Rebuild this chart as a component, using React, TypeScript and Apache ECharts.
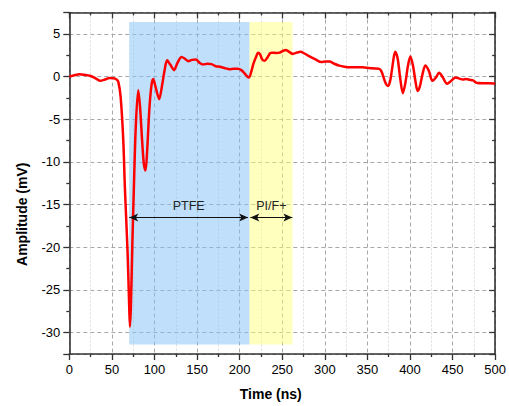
import React, { useEffect, useRef } from "react";
import * as echarts from "echarts";

// Time (ns)
const times = [
  0, 5, 12, 18, 24, 30, 36, 42, 47, 52, 55.5, 57.5, 60.2, 63.3, 65.3, 68.4, 70.2, 71.2, 72.3, 73.9,
  75.8, 78, 80.9, 83, 85.5, 87.5, 89.5, 91.5, 94, 96.5, 98.5, 101.5, 105.5, 109, 112, 114.9, 118.5,
  123, 127, 131.8, 135.5, 139.5, 144, 148.5, 153, 157, 162, 167, 172, 176.7, 182, 188.4, 193, 198,
  202, 206, 209, 211, 214, 216.5, 219.7, 221.6, 224, 226.5, 229.4, 233, 236, 239, 243, 247, 251, 254,
  258, 262.6, 267, 271.6, 276, 282, 289, 296, 301, 305.6, 311, 317, 323, 329, 337, 344.7, 352, 358,
  364, 366.5, 369, 371.5, 374, 376.5, 379, 382.6, 385.5, 388.5, 391.6, 394.5, 397.5, 400.4, 403.5,
  406.5, 409, 411.5, 415, 418, 422, 426.5, 430.5, 434.2, 438.5, 443.5, 448.5, 453.5, 458, 462, 466,
  470, 474, 478, 485, 492, 500,
];

// Amplitude (mV)
const amplitudes = [
  0, 0.12, 0.27, 0.2, 0.1, -0.15, -0.5, -0.35, -0.18, -0.2, -0.35, -0.6, -2.3, -7.3, -13.1, -20.5,
  -26.5, -29.3, -27, -20.1, -13.1, -6, -1.6, -3.5, -7.5, -10.2, -11, -8.5, -3.8, -1, -0.3, -1.3,
  -2.65, -1, 0.8, 1.9, 1.4, 0.75, 1.6, 2.28, 2.1, 1.8, 1.95, 2.0, 1.6, 1.4, 1.5, 1.45, 1.2, 1.15, 1.0,
  0.85, 0.9, 0.9, 0.75, 0.35, 0.0, -0.1, 0.7, 1.6, 2.4, 2.8, 2.6, 2.0, 1.85, 2.3, 2.75, 2.8, 2.75, 2.8,
  3.0, 3.1, 2.9, 2.65, 2.8, 2.9, 2.7, 2.35, 2.0, 1.7, 1.75, 1.75, 1.5, 1.28, 1.15, 1.08, 1.1, 1.08,
  1.0, 0.95, 0.9, 0.6, -0.1, -0.8, -1.1, -0.6, 0.9, 2.9, 2.1, -0.2, -1.95, -0.8, 1.2, 2.35, 1.3, -0.6,
  -1.7, -1.2, 0.4, 1.3, 0.7, -0.5, -0.1, 0.43, -0.1, -0.85, -0.5, -0.1, -0.25, -0.35, -0.3, -0.38,
  -0.45, -0.72, -0.78, -0.78, -0.82,
];

// Shaded regions: name, start/end time (ns), bottom/top amplitude (mV)
const regionNames = ["PTFE", "PI/F+"];
const regionStart = [70.3, 211.6];
const regionEnd = [211.6, 262];
const regionColors = ["rgba(128,192,246,0.5)", "rgba(255,255,110,0.45)"];
const regionBottom = -31.4;
const regionTop = 6.4;

// Double arrows under the labels
const arrowStart = [70.3, 212.6];
const arrowEnd = [209.9, 261.9];
const arrowLevel = -16.5;

const xMin = 0;
const xMax = 500;
const xInterval = 50;
const yMin = -32.5;
const yMax = 7.5;

const FONT = "'Liberation Sans', Arial, Helvetica, sans-serif";
const AXIS_COLOR = "#333333";

export default function App() {
  const ref = useRef<HTMLDivElement>(null);

  useEffect(() => {
    if (!ref.current) return;
    const chart = echarts.init(ref.current, undefined, { renderer: "svg" });

    const seriesData = times.map((t, i) => [t, amplitudes[i]]);

    const axisLine = { show: true, onZero: false, lineStyle: { color: AXIS_COLOR, width: 1.6 } };
    const tickStyle = { color: AXIS_COLOR, width: 1.3 };

    chart.setOption({
      animation: false,
      textStyle: { fontFamily: FONT },
      grid: { left: 69.3, right: 13, top: 12.5, bottom: 49.2, containLabel: false },
      xAxis: [
        {
          type: "value",
          position: "bottom",
          min: xMin,
          max: xMax,
          interval: xInterval,
          axisLine,
          axisTick: { show: true, inside: false, length: 6, lineStyle: tickStyle },
          minorTick: { show: true, splitNumber: 2, length: 3, lineStyle: tickStyle },
          axisLabel: { fontSize: 13, color: "#000", margin: 9, fontFamily: FONT },
          splitLine: { show: true, lineStyle: { type: [4, 3], color: "#a8a8a8", width: 1 } },
          minorSplitLine: { show: true, lineStyle: { type: [2, 2], color: "#dcdcdc", width: 1 } },
          name: "Time (ns)",
          nameLocation: "middle",
          nameGap: 33,
          nameTextStyle: {
            fontWeight: "bold",
            fontSize: 14,
            color: "#000",
            fontFamily: FONT,
            padding: [0, 23, 0, 0],
          },
        },
        {
          type: "value",
          position: "top",
          min: xMin,
          max: xMax,
          interval: xInterval,
          axisLine,
          axisTick: { show: true, inside: true, length: 6, lineStyle: tickStyle },
          minorTick: { show: true, splitNumber: 2, length: 3, lineStyle: tickStyle },
          axisLabel: { show: false },
          splitLine: { show: false },
        },
      ],
      yAxis: [
        {
          type: "value",
          position: "left",
          min: yMin,
          max: yMax,
          splitNumber: 8,
          axisLine,
          axisTick: { show: true, inside: false, length: 6, lineStyle: tickStyle },
          minorTick: { show: true, splitNumber: 2, length: 3, lineStyle: tickStyle },
          axisLabel: {
            fontSize: 13,
            color: "#000",
            margin: 9,
            fontFamily: FONT,
            showMinLabel: false,
            showMaxLabel: false,
          },
          splitLine: { show: true, lineStyle: { type: [4, 3], color: "#a8a8a8", width: 1 } },
          name: "Amplitude (mV)",
          nameLocation: "middle",
          nameGap: 40,
          nameTextStyle: {
            fontWeight: "bold",
            fontSize: 14,
            color: "#000",
            fontFamily: FONT,
            padding: [0, 62, 0, 0],
          },
        },
        {
          type: "value",
          position: "right",
          min: yMin,
          max: yMax,
          splitNumber: 8,
          axisLine,
          axisTick: { show: true, inside: true, length: 6, lineStyle: tickStyle },
          minorTick: { show: true, splitNumber: 2, length: 3, lineStyle: tickStyle },
          axisLabel: { show: false },
          splitLine: { show: false },
        },
      ],
      series: [
        {
          type: "line",
          xAxisIndex: 0,
          yAxisIndex: 0,
          data: seriesData,
          showSymbol: false,
          symbol: "none",
          smooth: 0.3,
          lineStyle: { color: "#ff0000", width: 2.5 },
          z: 3,
          markArea: {
            silent: true,
            data: regionNames.map((n, i) => [
              { xAxis: regionStart[i], yAxis: regionTop, itemStyle: { color: regionColors[i] } },
              { xAxis: regionEnd[i], yAxis: regionBottom },
            ]),
          },
          markLine: {
            silent: true,
            symbol: ["arrow", "arrow"],
            symbolSize: [6, 9],
            lineStyle: { color: "#111", width: 1, type: "solid" },
            label: {
              show: true,
              position: "middle",
              distance: 5,
              formatter: (p: any) => p.name,
              color: "#222",
              fontSize: 12.5,
              fontFamily: FONT,
            },
            emphasis: { disabled: true },
            data: regionNames.map((n, i) => [
              { name: n, coord: [arrowStart[i], arrowLevel] },
              { coord: [arrowEnd[i], arrowLevel] },
            ]),
          },
        },
      ],
    });

    return () => chart.dispose();
  }, []);

  return (
    <div
      ref={ref}
      style={{ position: "absolute", left: 0, top: 0, width: 509, height: 406, background: "#fff" }}
    />
  );
}
